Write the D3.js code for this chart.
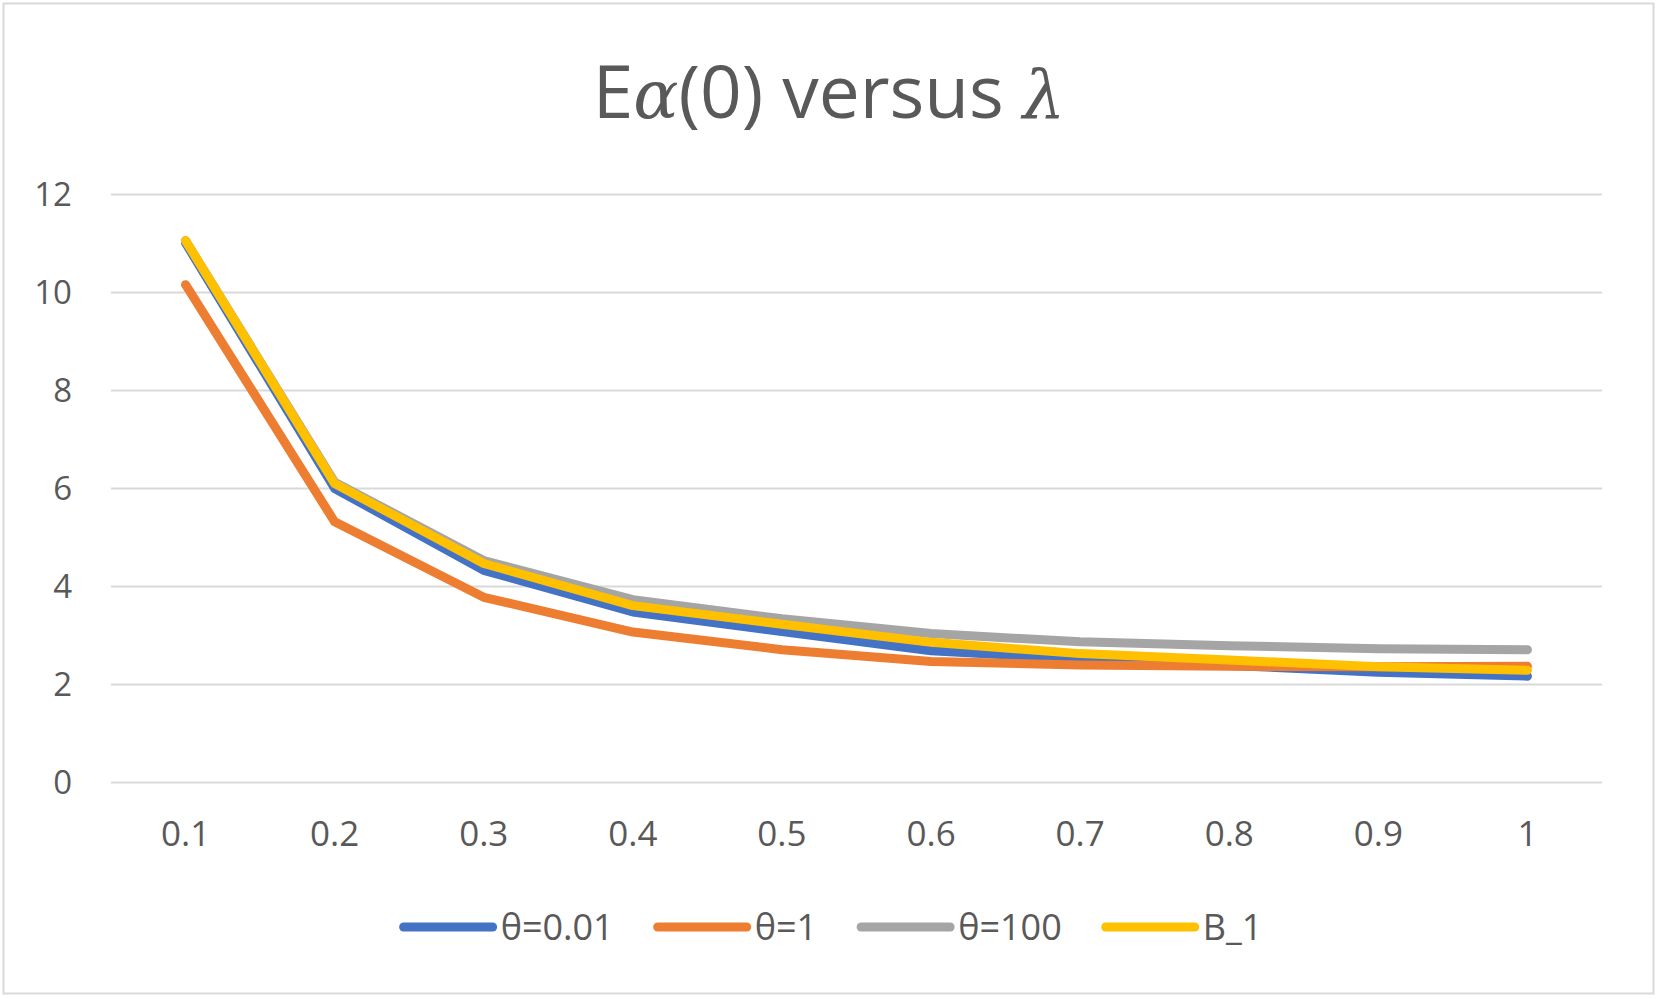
<!DOCTYPE html>
<html>
<head>
<meta charset="utf-8">
<script src="https://cdn.jsdelivr.net/npm/d3@7"></script>
<style>
  body { margin: 0; background: #fff; }
  text { font-family: "Open Sans", "Noto Sans", sans-serif; fill: #595959; }
</style>
</head>
<body>
<svg width="1659" height="999"></svg>
<script>
// values
const lambdas = ["0.1", "0.2", "0.3", "0.4", "0.5", "0.6", "0.7", "0.8", "0.9", "1"];
const theta001 = [11.0, 5.99, 4.32, 3.47, 3.07, 2.68, 2.51, 2.38, 2.24, 2.16];
const theta1 = [10.15, 5.31, 3.77, 3.06, 2.7, 2.46, 2.39, 2.36, 2.35, 2.36];
const theta100 = [11.05, 6.12, 4.52, 3.72, 3.33, 3.03, 2.86, 2.78, 2.72, 2.7];
const b1 = [11.05, 6.09, 4.46, 3.6, 3.22, 2.85, 2.62, 2.49, 2.35, 2.28];
const seriesNames = ["θ=0.01", "θ=1", "θ=100", "B_1"];
const seriesColors = ["#4472C4", "#ED7D31", "#A5A5A5", "#FFC000"];
const yTicks = [0, 2, 4, 6, 8, 10, 12];

const series = [theta001, theta1, theta100, b1].map((values, i) => ({
  name: seriesNames[i],
  color: seriesColors[i],
  values
}));

const svg = d3.select("svg");
const width = +svg.attr("width");
const height = +svg.attr("height");

const margin = { top: 194, right: 57, bottom: 217, left: 111 };

// chart border
svg.append("rect")
  .attr("x", 3.5)
  .attr("y", 3.5)
  .attr("width", 1650)
  .attr("height", 990)
  .attr("fill", "none")
  .attr("stroke", "#d9d9d9")
  .attr("stroke-width", 2);

// title with italic math letters
const title = svg.append("text")
  .attr("x", 829)
  .attr("y", 118)
  .attr("text-anchor", "middle")
  .attr("font-size", 73);
title.append("tspan").text("E");
title.append("tspan")
  .attr("font-family", "DejaVu Serif")
  .attr("font-style", "italic")
  .attr("font-size", 67)
  .text("α");
title.append("tspan").text("(0) versus ");
title.append("tspan")
  .attr("font-family", "DejaVu Serif")
  .attr("font-style", "italic")
  .attr("font-size", 67)
  .text("λ");

// scales in page coordinates
const xScale = d3.scalePoint()
  .domain(lambdas)
  .range([margin.left, width - margin.right])
  .padding(0.5);

const yScale = d3.scaleLinear()
  .domain([0, 12])
  .range([height - margin.bottom, margin.top]);

// gridlines from the axis, labels drawn as plain texts
const yAxis = d3.axisLeft(yScale)
  .tickValues(yTicks)
  .tickSize(-(width - margin.left - margin.right));

const yAxisG = svg.append("g")
  .attr("transform", `translate(${margin.left},0)`)
  .call(yAxis);
yAxisG.select(".domain").remove();
yAxisG.selectAll(".tick text").remove();
yAxisG.selectAll(".tick line")
  .attr("stroke", "#d9d9d9")
  .attr("stroke-width", 2);

svg.selectAll(".y-label")
  .data(yTicks)
  .enter()
  .append("text")
  .attr("class", "y-label")
  .attr("x", margin.left - 39)
  .attr("y", d => yScale(d) + 12)
  .attr("text-anchor", "end")
  .attr("font-size", 33)
  .text(d => d);

svg.selectAll(".x-label")
  .data(lambdas)
  .enter()
  .append("text")
  .attr("class", "x-label")
  .attr("x", d => xScale(d))
  .attr("y", height - margin.bottom + 64)
  .attr("text-anchor", "middle")
  .attr("font-size", 35)
  .text(d => d);

const line = d3.line()
  .x((d, i) => xScale(lambdas[i]))
  .y(d => yScale(d));

svg.selectAll(".series")
  .data(series)
  .enter()
  .append("path")
  .attr("class", "series")
  .attr("d", d => line(d.values))
  .attr("fill", "none")
  .attr("stroke", d => d.color)
  .attr("stroke-width", 9)
  .attr("stroke-linejoin", "round")
  .attr("stroke-linecap", "round");

// legend
const legendLen = 89;
const legendGap = 8;
const itemGap = 44;
const legendY = 927;

const legendG = svg.append("g");
const items = legendG.selectAll(".legend")
  .data(series)
  .enter()
  .append("g")
  .attr("class", "legend");

items.append("line")
  .attr("x1", 0)
  .attr("x2", legendLen)
  .attr("stroke", d => d.color)
  .attr("stroke-width", 9)
  .attr("stroke-linecap", "round");

items.append("text")
  .attr("x", legendLen + legendGap)
  .attr("dy", "0.36em")
  .attr("font-size", 36)
  .text(d => d.name);

let offset = 0;
const offsets = [];
items.each(function () {
  offsets.push(offset);
  const w = this.querySelector("text").getComputedTextLength();
  offset += legendLen + legendGap + w + itemGap;
});
const totalW = offset - itemGap;
const startX = 833 - totalW / 2;
items.attr("transform", (d, i) => `translate(${startX + offsets[i]},${legendY})`);
</script>
</body>
</html>
